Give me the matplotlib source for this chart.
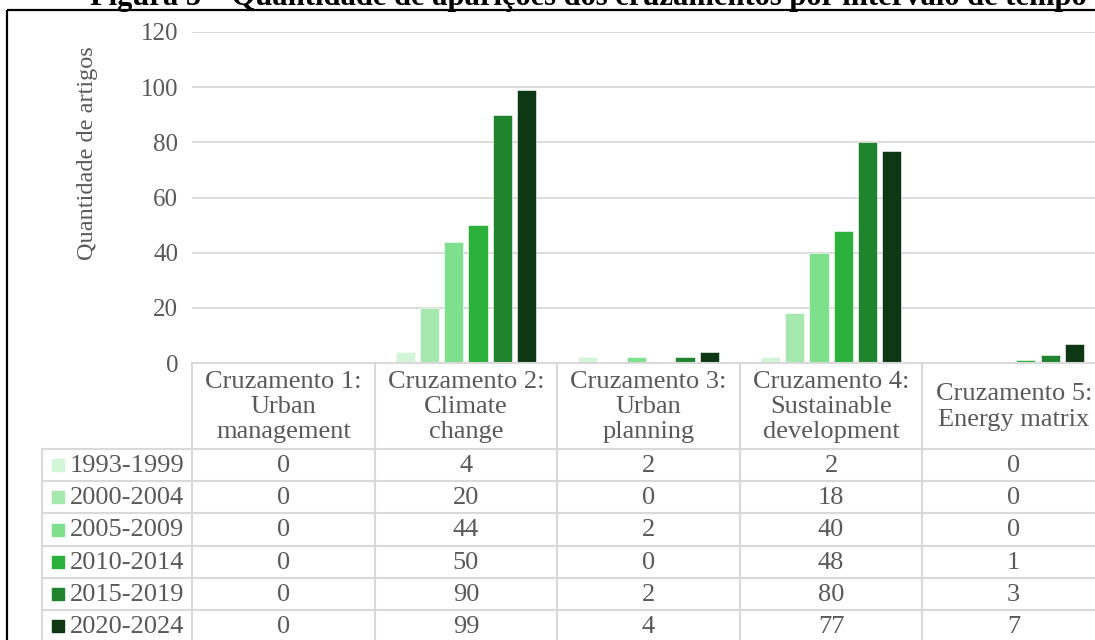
import matplotlib.pyplot as plt
from matplotlib.patches import Rectangle

plt.rcParams['font.family'] = ['Liberation Serif', 'DejaVu Serif']

# Data
categories = ['Cruzamento 1:\nUrban\nmanagement',
              'Cruzamento 2:\nClimate\nchange',
              'Cruzamento 3:\nUrban\nplanning',
              'Cruzamento 4:\nSustainable\ndevelopment',
              'Cruzamento 5:\nEnergy matrix']
periods = ['1993-1999', '2000-2004', '2005-2009', '2010-2014', '2015-2019', '2020-2024']
v_1993 = [0, 4, 2, 2, 0]
v_2000 = [0, 20, 0, 18, 0]
v_2005 = [0, 44, 2, 40, 0]
v_2010 = [0, 50, 0, 48, 1]
v_2015 = [0, 90, 2, 80, 3]
v_2020 = [0, 99, 4, 77, 7]
series = [v_1993, v_2000, v_2005, v_2010, v_2015, v_2020]
colors = ['#d2f5d8', '#a6e9af', '#7ee08c', '#2bb13b', '#1f842d', '#0e3814']
yticks = [0, 20, 40, 60, 80, 100, 120]

W, H = 1095, 640
txt = '#595959'
line = '#d9d9d9'
fs = 19

fig = plt.figure(figsize=(W / 100, H / 100), dpi=100)

# plot area (pixel layout)
x0, x1 = 192, 1105
y_zero, y_top = 363, 32
ax = fig.add_axes([x0 / W, (H - y_zero) / H, (x1 - x0) / W, (y_zero - y_top) / H])

n = len(categories)
step, width = 0.133, 0.105
for j, (vals, c) in enumerate(zip(series, colors)):
    xs = [i + (j - 2.5) * step for i in range(n)]
    ax.bar(xs, vals, width=width, color=c, edgecolor='white', linewidth=0.4, zorder=3)

ax.set_xlim(-0.5, n - 0.5)
ax.set_ylim(0, 120)
ax.set_yticks(yticks)
ax.set_xticks([])
ax.yaxis.grid(True, color=line, linewidth=1.3, zorder=0)
for s in ax.spines.values():
    s.set_visible(False)
ax.tick_params(axis='y', length=0, pad=10, labelsize=18, labelcolor=txt)

fig.text(88 / W, 1 - 153 / H, 'Quantidade de artigos', rotation=90,
         ha='center', va='center', fontsize=17.5, color=txt)

# data table below the plot
ov = fig.add_axes([0, 0, 1, 1], facecolor='none')
ov.set_xlim(0, W)
ov.set_ylim(H, 0)
ov.axis('off')

colw = (x1 - x0) / n
head_bot = 449
row_h = 32.2
row_edges = [head_bot + k * row_h for k in range(len(periods) + 1)]
lab_left = 42

ov.plot([x0, W + 20], [y_zero, y_zero], color=line, lw=1.5)
for y in row_edges:
    ov.plot([lab_left, W + 20], [y, y], color=line, lw=1.5)
ov.plot([lab_left, lab_left], [head_bot, H + 5], color=line, lw=1.5)
for i in range(n + 1):
    xe = x0 + i * colw
    ov.plot([xe, xe], [y_zero, H + 5], color=line, lw=1.5)

for i, cat in enumerate(categories):
    ov.text(x0 + (i + 0.5) * colw, (y_zero + head_bot) / 2 + 1, cat,
            ha='center', va='center', fontsize=fs, color=txt, linespacing=1.2)

for k, (p, vals, c) in enumerate(zip(periods, series, colors)):
    yc = (row_edges[k] + row_edges[k + 1]) / 2
    ov.add_patch(Rectangle((52, yc - 6), 12, 12, color=c))
    ov.text(70, yc + 1, p, ha='left', va='center', fontsize=fs, color=txt)
    for i, v in enumerate(vals):
        ov.text(x0 + (i + 0.5) * colw, yc + 1, str(v), ha='center', va='center',
                fontsize=fs, color=txt)

# outer frame and caption
ov.add_patch(Rectangle((7, 9.5), W + 50, H + 50, fill=False, edgecolor='black', lw=1.6))
ov.text(588, 5, 'Figura 5 – Quantidade de aparições dos cruzamentos por intervalo de tempo',
        ha='center', va='baseline', fontsize=22, fontweight='bold', color='black')

fig.savefig('out.png', dpi=100)
